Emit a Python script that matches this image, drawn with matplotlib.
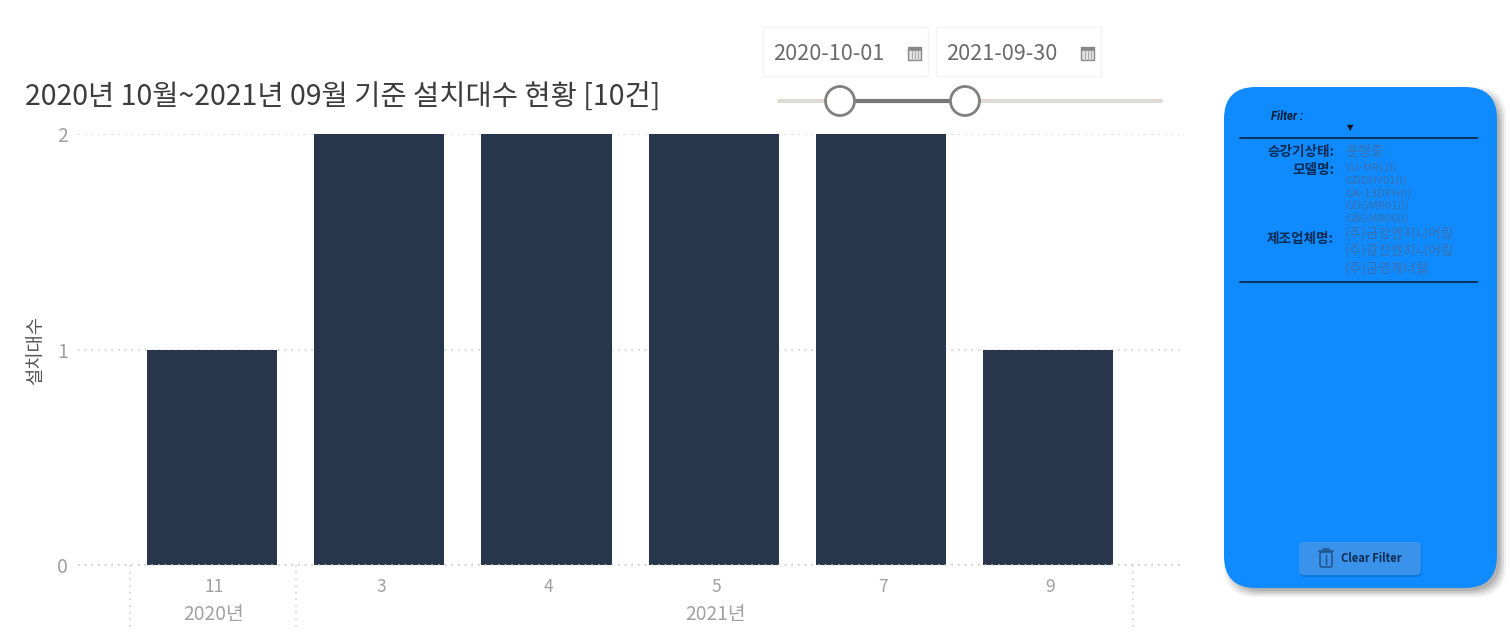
import matplotlib
matplotlib.use('Agg')
import matplotlib.pyplot as plt
from matplotlib.patches import FancyBboxPatch, Rectangle, Circle
from matplotlib.transforms import ScaledTranslation

plt.rcParams['font.family'] = ['Noto Sans CJK KR', 'DejaVu Sans']

months = ['11', '3', '4', '5', '7', '9']
counts = [1, 2, 2, 2, 2, 1]
year_labels = ['2020년', '2021년']
year_spans = [(0, 0), (1, 5)]
y_ticks = [0, 1, 2]

title = '2020년 10월~2021년 09월 기준 설치대수 현황 [10건]'
y_label = '설치대수'
date_from = '2020-10-01'
date_to = '2021-09-30'
status_values = ['운행중']
model_values = ['GJ-MRL(I)', 'GDDHY01(I)', 'GK-13DPH(I)', 'GDGMR01(I)', 'GBGMR06(I)']
maker_values = ['(주)금강엔지니어링', '(주)광진엔지니어링', '(주)금영제너럴']

W, H = 1510, 633
BAR = '#27364b'
GREY = '#a0a0a0'
DOT = '#cfcfcf'
BLUE = '#0f8bff'
DARK = '#0b2b52'
SOFT = '#3a70ad'

fig = plt.figure(figsize=[W / 100, H / 100], dpi=100)

# main chart, axes box in pixels of the figure
left, right, top, bottom = 78, 1184, 134, 565
ax = fig.add_axes([left / W, 1 - bottom / H, (right - left) / W, (bottom - top) / H])
x = list(range(len(months)))
ax.bar(x, counts, width=0.777, color=BAR, zorder=3)
ax.set_xlim(-0.8, 5.81)
ax.set_ylim(0, 2)
ax.set_yticks(y_ticks)
ax.set_yticklabels(y_ticks, fontsize=14, color=GREY)
ax.set_xticks(x)
ax.set_xticklabels(months, fontsize=12.5, color=GREY)
ax.tick_params(length=0)
ax.tick_params(axis='x', pad=9)
ax.tick_params(axis='y', pad=7)
ax.grid(axis='y', color=DOT, linestyle=(0, (1, 3)), linewidth=1.2, zorder=1)
for s in ax.spines.values():
    s.set_visible(False)
ax.set_ylabel(y_label, fontsize=13.5, color='#555555')
ax.yaxis.set_label_coords(-0.029, 0.497)

# month labels sit a little right of the bar centres
nudge = ScaledTranslation(2 / 100, 0, fig.dpi_scale_trans)
for t in ax.get_xticklabels():
    t.set_transform(t.get_transform() + nudge)

# month / year separators under the axis
trans = ax.get_xaxis_transform()
dividers = [-0.49, 0.505, 5.505]
for d in dividers:
    ax.plot([d, d], [0, -0.15], transform=trans, clip_on=False, color=DOT,
            linestyle=(0, (1, 3)), linewidth=1.2)
ax.plot([-0.8, 5.81], [0, 0], transform=trans, clip_on=False, color=DOT,
        linestyle=(0, (1, 3)), linewidth=1.2, zorder=4)
for lab, (a, b) in zip(year_labels, year_spans):
    ax.text((a + b) / 2 + 0.01, -0.115, lab, transform=trans, ha='center', va='center',
            fontsize=13.8, color=GREY)

# overlay in pixel coordinates for the page furniture
ov = fig.add_axes([0, 0, 1, 1], zorder=5)
ov.set_xlim(0, W)
ov.set_ylim(H, 0)
ov.axis('off')
ov.patch.set_alpha(0)

ov.text(25, 97, title, fontsize=20.5, color='#3c3c3c', va='center', ha='left')


def date_box(x0, label):
    ov.add_patch(Rectangle((x0, 27), 165, 49, fc='white', ec='#f4f4f4', lw=1))
    ov.text(x0 + 10, 54, label, fontsize=15.6, color='#6a6a6a', va='center', ha='left')
    # small calendar icon
    ix = x0 + 145
    ov.add_patch(Rectangle((ix, 47), 13, 13, fc='#e2e2e2', ec='#888888', lw=1))
    ov.add_patch(Rectangle((ix, 47), 13, 3, fc='#888888', ec='#888888', lw=0.5))
    for k in (4, 7, 10):
        ov.plot([ix + k, ix + k], [51, 60], color='#aaaaaa', lw=0.7)


date_box(763, date_from)
date_box(936, date_to)

# slider
ov.plot([779, 1161], [101, 101], color='#dedbd2', lw=3, solid_capstyle='round', zorder=2)
ov.plot([840, 965], [101, 101], color='#777777', lw=3, zorder=3)
for cx in (840, 965):
    ov.add_patch(Circle((cx, 101), 14.5, fc='white', ec='#808080', lw=2, zorder=4))

# filter panel, shadow built from a few soft layers
for grow, alpha in ((6, 0.12), (4, 0.18), (2, 0.25), (0, 0.35)):
    ov.add_patch(FancyBboxPatch((1230 - grow, 93 - grow), 270 + 2 * grow, 498 + 2 * grow,
                                boxstyle='round,pad=0,rounding_size=32',
                                fc='#8a8a8a', ec='none', alpha=alpha, zorder=1))
ov.add_patch(FancyBboxPatch((1224, 87), 273, 501, boxstyle='round,pad=0,rounding_size=32',
                            fc=BLUE, ec='none', zorder=2))
ov.text(1271, 117, 'Filter :', fontsize=8.4, style='italic', weight='bold', color='#0a1c33',
        va='center', ha='left', zorder=3, family=['Roboto'])
ov.text(1350, 128, '▼', fontsize=6, color='#05101f', va='center', ha='center', zorder=3,
        family=['DejaVu Sans'])
for yy in (138, 282):
    ov.plot([1240, 1477], [yy, yy], color='#0a2340', lw=1.2, zorder=3)

ov.text(1334, 152, '승강기상태:', fontsize=9.8, weight='bold', color=DARK, va='center', ha='right', zorder=3)
ov.text(1345, 152, status_values[0], fontsize=10, color=SOFT, va='center', ha='left', zorder=3)
ov.text(1334, 170, '모델명:', fontsize=9.8, weight='bold', color=DARK, va='center', ha='right', zorder=3)
for lab, yy in zip(model_values, (168, 181, 194, 206, 219)):
    ov.text(1345, yy, lab, fontsize=8.2, color=SOFT, va='center', ha='left', zorder=3)
ov.text(1334, 239, '제조업체명:', fontsize=9.8, weight='bold', color=DARK, va='center', ha='right', zorder=3)
for lab, yy in zip(maker_values, (234, 251, 269)):
    ov.text(1345, yy, lab, fontsize=9.8, color=SOFT, va='center', ha='left', zorder=3)

# clear filter button
ov.add_patch(FancyBboxPatch((1300, 543), 122, 34, boxstyle='round,pad=0,rounding_size=5',
                            fc='#0b6fcc', ec='none', alpha=0.6, zorder=3))
ov.add_patch(FancyBboxPatch((1299, 542), 122, 33, boxstyle='round,pad=0,rounding_size=5',
                            fc='#3a92ea', ec='none', zorder=3))
ov.add_patch(FancyBboxPatch((1320, 552), 12, 15, boxstyle='round,pad=0,rounding_size=2',
                            fc='none', ec='#1f5288', lw=1.1, zorder=4))
ov.plot([1319, 1333], [551, 551], color='#1f5288', lw=1.1, zorder=4)
ov.plot([1323, 1329], [549, 549], color='#1f5288', lw=1.1, zorder=4)
ov.plot([1326, 1326], [555, 564], color='#1f5288', lw=1, zorder=4)
ov.text(1341, 559, 'Clear Filter', fontsize=8, weight='bold', color=DARK, va='center', ha='left', zorder=4)

fig.savefig('out.png', dpi=100)
